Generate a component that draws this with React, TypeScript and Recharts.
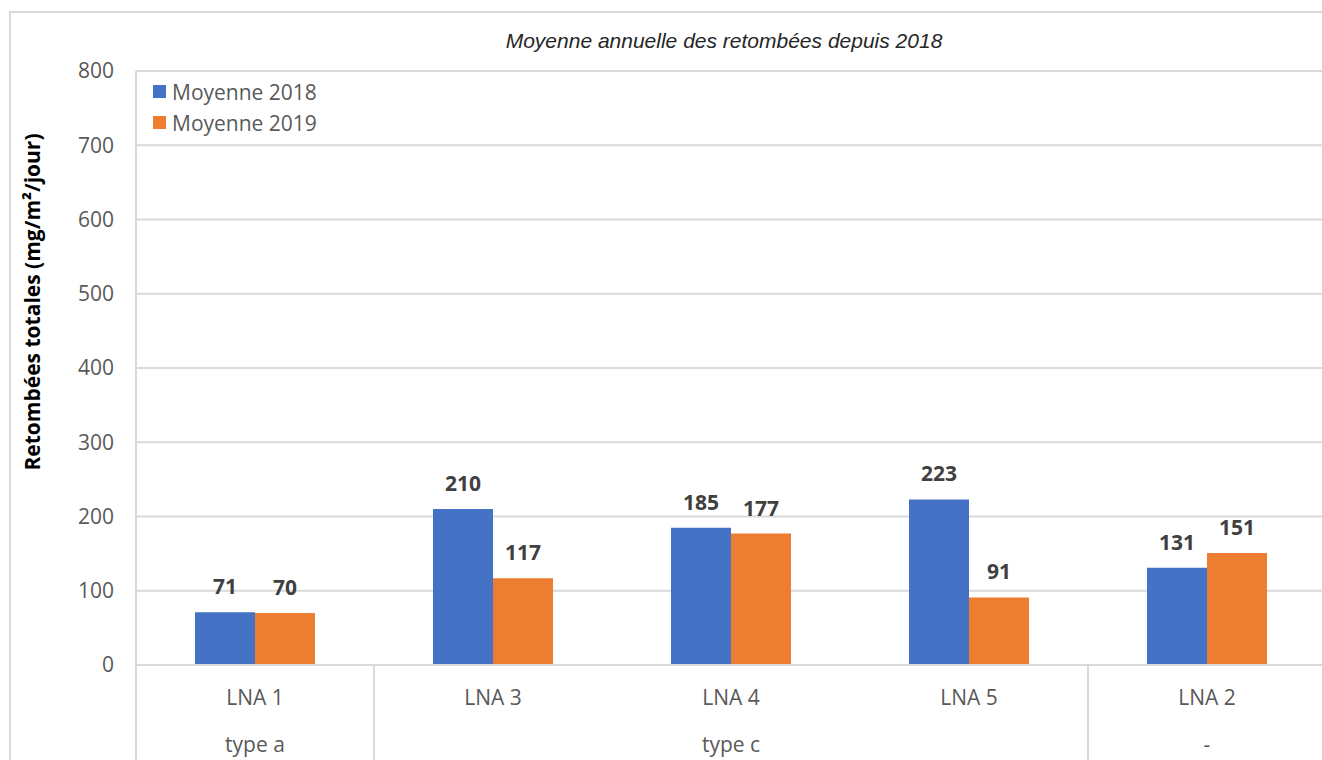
import React from "react";
import {
  BarChart,
  Bar,
  XAxis,
  YAxis,
  CartesianGrid,
  Legend,
  LabelList,
} from "recharts";

const stations = ["LNA 1", "LNA 3", "LNA 4", "LNA 5", "LNA 2"];
const groups = ["type a", "type c", "type c", "type c", "-"];
const mean2018 = [71, 210, 185, 223, 131];
const mean2019 = [70, 117, 177, 91, 151];
const yTicks = [0, 100, 200, 300, 400, 500, 600, 700, 800];

const data = stations.map((name, i) => ({
  name,
  group: groups[i],
  m2018: mean2018[i],
  m2019: mean2019[i],
}));

const CHART_W = 1360;
const CHART_H = 800;
const PLOT_LEFT = 136;
const PLOT_RIGHT = 1326;
const BAND = (PLOT_RIGHT - PLOT_LEFT) / stations.length;
const FONT = "'Open Sans', sans-serif";
const GRID = "#d9d9d9";
const TEXT = "#595959";

// draws station label + group row below, with separators at group edges
function CategoryTick(props: any) {
  const { x, y, index, payload } = props;
  const g = groups[index];
  let start = index;
  while (start > 0 && groups[start - 1] === g) start--;
  let end = index;
  while (end < groups.length - 1 && groups[end + 1] === g) end++;
  const mid = Math.floor((start + end) / 2);
  const groupX = x + ((start + end) / 2 - index) * BAND;
  return (
    <g>
      {start === index && (
        <line x1={x - BAND / 2} y1={y} x2={x - BAND / 2} y2={y + 110} stroke={GRID} strokeWidth={2} />
      )}
      {end === index && (
        <line x1={x + BAND / 2} y1={y} x2={x + BAND / 2} y2={y + 110} stroke={GRID} strokeWidth={2} />
      )}
      <text x={x} y={y + 40} textAnchor="middle" fill={TEXT} fontSize={21} fontFamily={FONT}>
        {payload.value}
      </text>
      {mid === index && (
        <text x={groupX} y={y + 87} textAnchor="middle" fill={TEXT} fontSize={21} fontFamily={FONT}>
          {g}
        </text>
      )}
    </g>
  );
}

function LegendBox(props: any) {
  const items = props.payload || [];
  return (
    <div style={{ fontFamily: FONT, fontSize: 21, color: TEXT }}>
      {items.map((it: any) => (
        <div key={it.value} style={{ display: "flex", alignItems: "center", height: 31 }}>
          <span style={{ width: 13, height: 13, background: it.color, marginRight: 6 }} />
          {it.value}
        </div>
      ))}
    </div>
  );
}

function YLabel() {
  return (
    <text
      x={32}
      y={302}
      transform="rotate(-90, 32, 302)"
      textAnchor="middle"
      dominantBaseline="central"
      fontFamily={FONT}
      fontWeight="bold"
      fontSize={21}
      fill="#000"
    >
      Retombées totales (mg/m²/jour)
    </text>
  );
}

export default function App() {
  return (
    <div
      style={{
        position: "fixed",
        left: 0,
        top: 0,
        width: 1322,
        height: 760,
        overflow: "hidden",
        background: "#fff",
      }}
    >
      <div
        style={{
          position: "absolute",
          left: 9,
          top: 11,
          width: 1400,
          height: 900,
          border: `2px solid ${GRID}`,
        }}
      />
      <div
        style={{
          position: "absolute",
          left: 0,
          top: 29,
          width: 1448,
          textAlign: "center",
          fontFamily: "'Liberation Sans', Arial, sans-serif",
          fontStyle: "italic",
          fontSize: 21,
          color: "#262626",
        }}
      >
        Moyenne annuelle des retombées depuis 2018
      </div>
      <div style={{ position: "absolute", left: 0, top: 0 }}>
        <BarChart
          width={CHART_W}
          height={CHART_H}
          data={data}
          margin={{ top: 71, right: CHART_W - PLOT_RIGHT, left: 0, bottom: 40 }}
          barGap={0}
          barSize={60}
        >
          <CartesianGrid vertical={false} stroke={GRID} strokeWidth={2} />
          <XAxis
            dataKey="name"
            height={95}
            axisLine={{ stroke: GRID, strokeWidth: 2 }}
            tickLine={false}
            tickSize={0}
            tickMargin={0}
            interval={0}
            tick={<CategoryTick />}
          />
          <YAxis
            width={PLOT_LEFT}
            domain={[0, 800]}
            ticks={yTicks}
            axisLine={{ stroke: GRID, strokeWidth: 2 }}
            tickLine={false}
            tickSize={0}
            tickMargin={22}
            tick={{ fill: TEXT, fontSize: 21, fontFamily: FONT }}
            label={<YLabel />}
          />
          <Legend
            layout="vertical"
            align="center"
            verticalAlign="middle"
            wrapperStyle={{ left: 153, top: 76, width: 220 }}
            content={<LegendBox />}
          />
          <Bar dataKey="m2018" name="Moyenne 2018" fill="#4472C4" isAnimationActive={false}>
            <LabelList
              dataKey="m2018"
              position="top"
              offset={18}
              fill="#404040"
              fontSize={21}
              fontWeight="bold"
              fontFamily={FONT}
            />
          </Bar>
          <Bar dataKey="m2019" name="Moyenne 2019" fill="#ED7D31" isAnimationActive={false}>
            <LabelList
              dataKey="m2019"
              position="top"
              offset={18}
              fill="#404040"
              fontSize={21}
              fontWeight="bold"
              fontFamily={FONT}
            />
          </Bar>
        </BarChart>
      </div>
    </div>
  );
}
